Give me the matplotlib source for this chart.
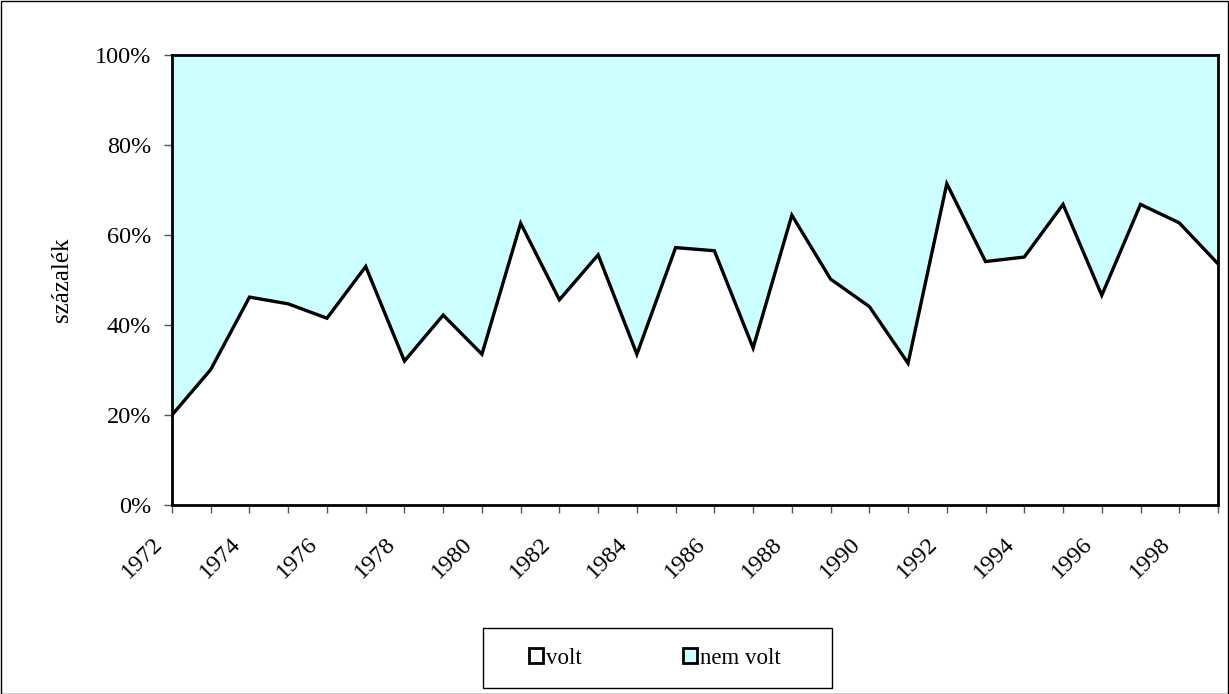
import matplotlib
matplotlib.use('Agg')
import matplotlib.pyplot as plt
import matplotlib.patches as mpatches
import matplotlib.transforms as mtransforms
import numpy as np

# ── Adatok ───────────────────────────────────
years = list(range(1972, 2000))
volt = [20.0, 30.1, 46.2, 44.7, 41.5, 53.0, 32.0, 42.2, 33.5, 62.6,
        45.6, 55.6, 33.5, 57.2, 56.5, 34.9, 64.4, 50.2, 44.1, 31.5,
        71.4, 54.1, 55.1, 66.8, 46.6, 66.8, 62.7, 53.6]
nem_volt = [100 - v for v in volt]
series_labels = ['volt', 'nem volt']
y_ticks = [0, 20, 40, 60, 80, 100]

CYAN = '#CCFFFF'
W, H = 1229, 694

plt.rcParams['font.family'] = ['Liberation Serif', 'DejaVu Serif']

fig = plt.figure(figsize=(W / 100, H / 100), dpi=100)
ax = fig.add_axes([172 / W, 1 - 505 / H, (1218 - 172) / W, (505 - 55) / H])

x = np.arange(len(years))
ax.stackplot(x, volt, nem_volt, colors=['white', CYAN], linewidth=0)
ax.plot(x, volt, color='black', lw=2.4, solid_joinstyle='miter')

ax.set_xlim(0, len(years) - 1)
ax.set_ylim(0, 100)

ax.set_yticks(y_ticks)
ax.set_yticklabels([f'{t}%' for t in y_ticks], fontsize=17.5)
ax.set_xticks(x)
ax.set_xticklabels([str(y) if (y - years[0]) % 2 == 0 else '' for y in years],
                   fontsize=17.5, rotation=45, ha='right', va='top',
                   rotation_mode='anchor')
ax.tick_params(axis='both', direction='out', length=6, width=1, color='#555555')
ax.tick_params(axis='y', pad=9)
ax.tick_params(axis='x', pad=10)

# címkék eltolása balra-le, mint az eredetin
shift = mtransforms.ScaledTranslation(-20 / 100, -6 / 100, fig.dpi_scale_trans)
for lbl in ax.get_xticklabels():
    lbl.set_transform(lbl.get_transform() + shift)

for s in ax.spines.values():
    s.set_linewidth(2)
    s.set_color('black')

ax.set_ylabel('százalék', fontsize=18, labelpad=16)

# jelmagyarázat
handles = [mpatches.Patch(facecolor='white', edgecolor='black', linewidth=2, label=series_labels[0]),
           mpatches.Patch(facecolor=CYAN, edgecolor='black', linewidth=2, label=series_labels[1])]
leg = fig.legend(handles=handles, loc='center', bbox_to_anchor=(655 / W, 1 - 658 / H),
                 ncol=2, fontsize=16.5, frameon=False,
                 handlelength=0.6, handleheight=0.6, handletextpad=0.15,
                 columnspacing=4.4, borderaxespad=0)
fig.patches.append(mpatches.Rectangle((483 / W, 1 - 688 / H), (832 - 483) / W, 60 / H,
                                      transform=fig.transFigure, fill=False,
                                      edgecolor='black', linewidth=1))

# keret a teljes ábra körül
fig.patches.append(mpatches.Rectangle((0.5 / W, 0.5 / H), 1 - 1.5 / W, 1 - 1.5 / H,
                                      transform=fig.transFigure, fill=False,
                                      edgecolor='black', linewidth=1))

fig.savefig('out.png', dpi=100)
